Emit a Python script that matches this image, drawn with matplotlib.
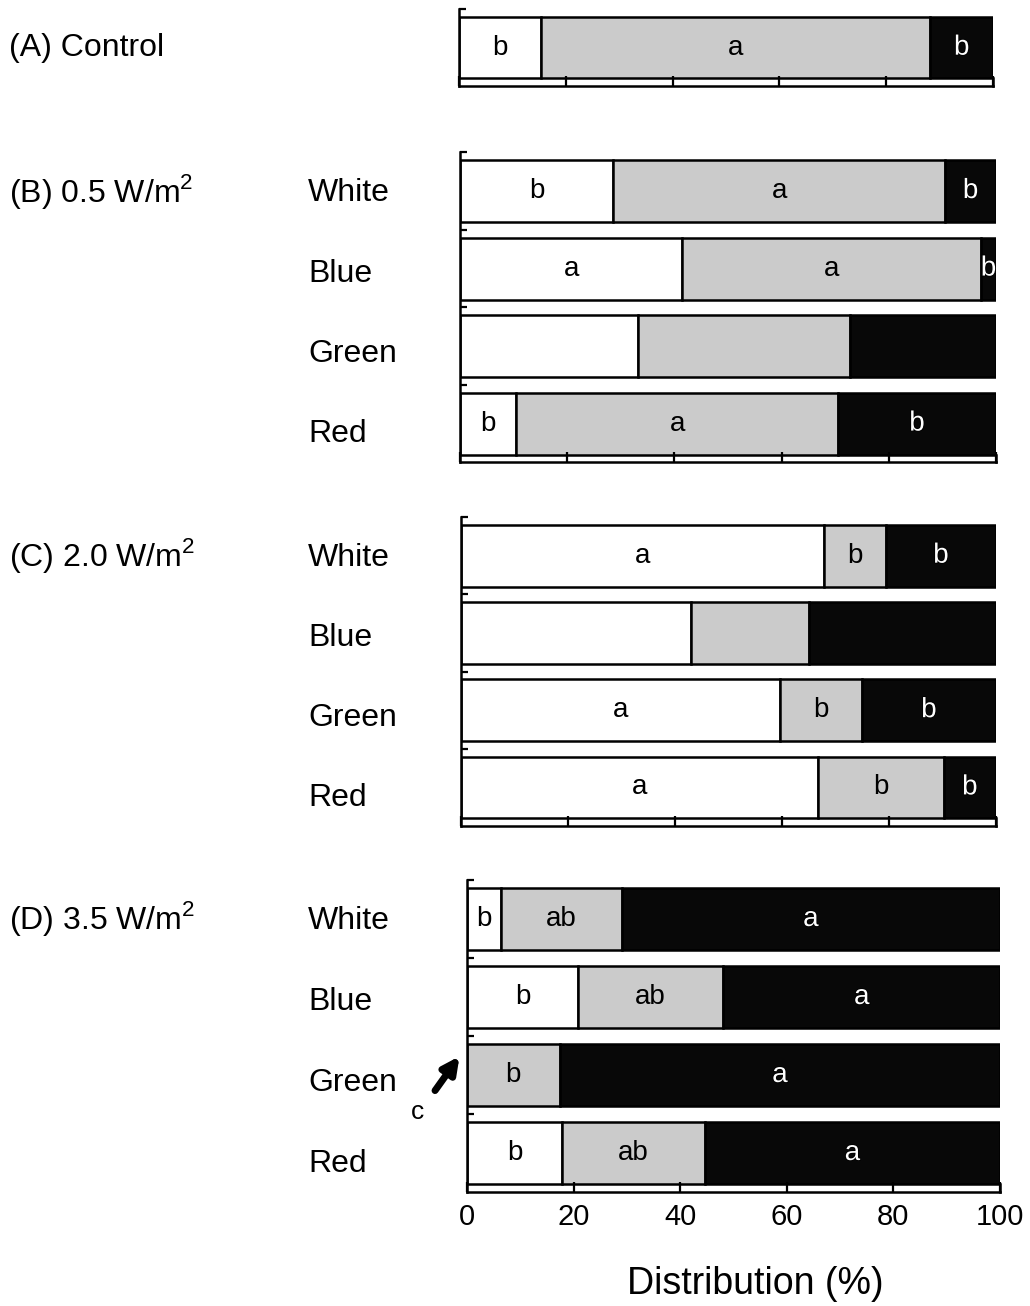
"""Plot distribution bars per light treatment"""

import numpy as np
import matplotlib
matplotlib.use("Agg")
import matplotlib.pyplot as plt
import matplotlib.patheffects as pe
from matplotlib.transforms import blended_transform_factory

plt.rcParams['font.family'] = ['Liberation Sans', 'DejaVu Sans']
plt.rcParams['mathtext.fontset'] = 'custom'
plt.rcParams['mathtext.rm'] = 'Liberation Sans'

# Data (% of individuals: white / gray / black part of each bar)
panel_titles = ['(A) Control', '(B) 0.5 W/m$^2$', '(C) 2.0 W/m$^2$', '(D) 3.5 W/m$^2$']
row_labels = ['White', 'Blue', 'Green', 'Red']

ctrl_white = [15.3]
ctrl_gray = [73.0]
ctrl_black = [11.7]
ctrl_letters = [['b', 'a', 'b']]

b_white = [28.6, 41.5, 33.2, 10.5]
b_gray = [61.9, 55.7, 39.6, 60.0]
b_black = [9.5, 2.8, 27.2, 29.5]
b_letters = [['b', 'a', 'b'], ['a', 'a', 'b'], ['', '', ''], ['b', 'a', 'b']]

c_white = [67.9, 42.9, 59.7, 66.7]
c_gray = [11.5, 22.2, 15.2, 23.5]
c_black = [20.6, 34.9, 25.1, 9.8]
c_letters = [['a', 'b', 'b'], ['', '', ''], ['a', 'b', 'b'], ['a', 'b', 'b']]

d_white = [6.3, 20.8, 0.0, 17.9]
d_gray = [22.7, 27.3, 17.4, 26.7]
d_black = [71.0, 51.9, 82.6, 55.4]
d_letters = [['b', 'ab', 'a'], ['b', 'ab', 'a'], ['', 'b', 'a'], ['b', 'ab', 'a']]

xticks = [0, 20, 40, 60, 80, 100]
seg_colors = ['white', '#cbcbcb', '#080808']
text_colors = ['black', 'black', 'white']


def plot_panel(ax, fig, title, labels, white, gray, black, letters, last=False):
    """Stacked horizontal bars for one panel"""
    n = len(white)
    ypos = np.arange(n)
    left = np.zeros(n)
    for k, vals in enumerate([white, gray, black]):
        vals = np.array(vals)
        ax.barh(ypos, vals, left=left, height=0.8, color=seg_colors[k],
                edgecolor='black', linewidth=1.8)
        for i in range(n):
            txt = letters[i][k]
            if txt:
                t = ax.text(left[i] + vals[i] / 2, ypos[i], txt, ha='center',
                            va='center', fontsize=20, color=text_colors[k])
                if k == 2:
                    t.set_path_effects([pe.withStroke(linewidth=1.2, foreground='black')])
        left = left + vals

    ax.set_xlim(0, 100)
    ax.set_ylim(n - 0.5, -0.5)
    ax.set_xticks(xticks)
    ax.set_yticks(ypos - 0.5)
    ax.set_yticklabels([])
    ax.tick_params(axis='x', direction='in', length=7, width=1.6, labelsize=21, pad=8)
    ax.tick_params(axis='y', direction='in', length=5, width=1.6)
    for s in ['left', 'bottom', 'right']:
        ax.spines[s].set_linewidth(1.8)
    ax.spines['top'].set_visible(False)
    ax.spines['right'].set_bounds(n - 0.5, n - 0.6)
    if not last:
        ax.set_xticklabels([])
    else:
        ax.set_xlabel('Distribution (%)', fontsize=27)
        ax.xaxis.set_label_coords(0.54, -0.238)

    trans = blended_transform_factory(fig.transFigure, ax.transData)
    ax.text(0.009, 0, title, transform=trans, fontsize=23, va='center', ha='left')
    if labels is not None:
        for i, lab in enumerate(labels):
            ax.text(0.299, i * 1.035 + 0.03, lab, transform=trans, fontsize=23,
                    va='center', ha='left')


def main():
    """Main"""
    fig = plt.figure(figsize=(10.3, 13.06), dpi=100)
    ax_a = fig.add_axes([0.4456, 0.934, 0.5184, 0.059])
    ax_b = fig.add_axes([0.4466, 0.646, 0.5204, 0.2374])
    ax_c = fig.add_axes([0.4476, 0.3675, 0.5194, 0.2366])
    ax_d = fig.add_axes([0.4534, 0.0873, 0.5175, 0.2389])

    plot_panel(ax_a, fig, panel_titles[0], None, ctrl_white, ctrl_gray, ctrl_black, ctrl_letters)
    plot_panel(ax_b, fig, panel_titles[1], row_labels, b_white, b_gray, b_black, b_letters)
    plot_panel(ax_c, fig, panel_titles[2], row_labels, c_white, c_gray, c_black, c_letters)
    plot_panel(ax_d, fig, panel_titles[3], row_labels, d_white, d_gray, d_black, d_letters, last=True)

    # arrow pointing at the green bar in panel D
    ax_d.annotate('', xy=(-1.4, 1.76), xytext=(-6.0, 2.2), annotation_clip=False,
                  arrowprops=dict(arrowstyle='-|>', lw=5, color='black', mutation_scale=24,
                                  shrinkA=0, shrinkB=0))
    ax_d.text(-9.3, 2.47, 'c', fontsize=19, ha='center', va='center', clip_on=False)

    plt.savefig('out.png', dpi=100)


if __name__ == '__main__':
    main()
